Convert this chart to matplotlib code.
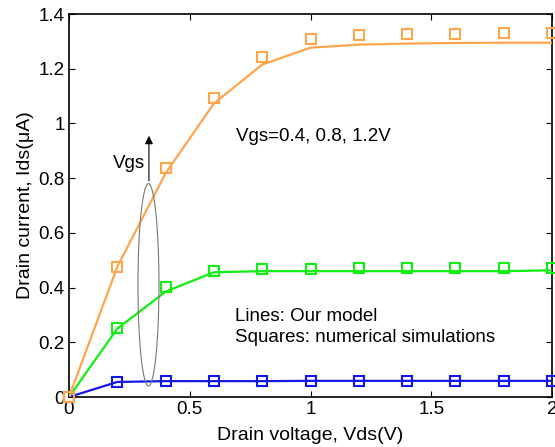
import matplotlib
matplotlib.use("Agg")
import matplotlib.pyplot as plt
from matplotlib.patches import Ellipse

plt.rcParams['font.family'] = ['Liberation Sans', 'DejaVu Sans']

vds = [0, 0.2, 0.4, 0.6, 0.8, 1.0, 1.2, 1.4, 1.6, 1.8, 2.0]

# Model (lines)
model_12 = [0, 0.476, 0.818, 1.073, 1.215, 1.277, 1.288, 1.292, 1.294, 1.295, 1.295]
model_08 = [0, 0.25, 0.385, 0.456, 0.460, 0.460, 0.460, 0.460, 0.460, 0.460, 0.463]
model_04 = [0, 0.055, 0.058, 0.058, 0.058, 0.059, 0.059, 0.059, 0.059, 0.059, 0.059]

# Numerical simulations (squares)
sim_12 = [0, 0.475, 0.838, 1.093, 1.244, 1.307, 1.323, 1.328, 1.327, 1.329, 1.329]
sim_08 = [0, 0.251, 0.403, 0.462, 0.468, 0.468, 0.471, 0.472, 0.472, 0.472, 0.472]
sim_04 = [0, 0.054, 0.058, 0.058, 0.058, 0.059, 0.059, 0.059, 0.059, 0.059, 0.059]

xticks = [0, 0.5, 1, 1.5, 2]
xticklabels = ['0', '0.5', '1', '1.5', '2']
yticks = [0, 0.2, 0.4, 0.6, 0.8, 1.0, 1.2, 1.4]
yticklabels = ['0', '0.2', '0.4', '0.6', '0.8', '1', '1.2', '1.4']

c_or = '#FFA64D'
c_gr = '#11EE11'
c_bl = '#1515E8'

fig = plt.figure(figsize=(5.55, 4.47), dpi=100)
ax = fig.add_axes([69/555, 1-397/447, (552-69)/555, (397-14)/447])

ms = 7
for y, ys, c in [(model_04, sim_04, c_bl), (model_08, sim_08, c_gr), (model_12, sim_12, c_or)]:
    ax.plot(vds, y, color=c, lw=1.6, zorder=3)
    ax.plot(vds, ys, ls='none', marker='s', ms=ms, mfc='none', mec=c, mew=1.5, zorder=4, clip_on=False)

ell = Ellipse((0.329, 0.41), 0.087, 0.74, fill=False, ec='#777777', lw=0.8, zorder=5)
ax.add_patch(ell)
ax.annotate('', xy=(0.331, 0.965), xytext=(0.331, 0.78),
            arrowprops=dict(arrowstyle='-|>', color='black', lw=0.8, mutation_scale=12), zorder=6)
fs = 13.5
ax.text(0.315, 0.855, 'Vgs', fontsize=fs, ha='right', va='center')
ax.text(0.69, 0.951, 'Vgs=0.4, 0.8, 1.2V', fontsize=fs, ha='left', va='center')
ax.text(0.687, 0.293, 'Lines: Our model', fontsize=fs, ha='left', va='center')
ax.text(0.687, 0.218, 'Squares: numerical simulations', fontsize=fs, ha='left', va='center')

ax.set_xlim(0, 2)
ax.set_ylim(0, 1.4)
ax.set_xticks(xticks)
ax.set_xticklabels(xticklabels)
ax.set_yticks(yticks)
ax.set_yticklabels(yticklabels)
ax.tick_params(direction='in', top=True, right=True, labelsize=13.5, length=4, width=0.8, pad=3)
for s in ax.spines.values():
    s.set_linewidth(1.2)
ax.set_xlabel('Drain voltage, Vds(V)', fontsize=14, labelpad=6)
ax.set_ylabel('Drain current, Ids(μA)', fontsize=14, labelpad=3)

fig.savefig('out.png', dpi=100)
